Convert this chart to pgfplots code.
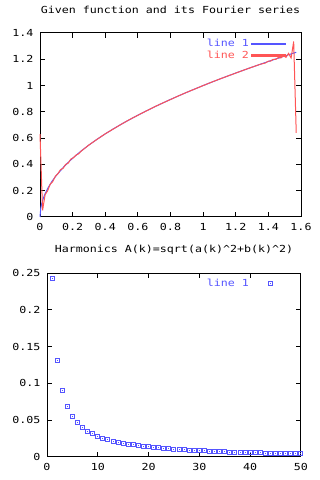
\documentclass[border=0pt]{standalone}
\usepackage{fontspec}
\setmonofont[FakeStretch=1.2]{DejaVu Sans Mono}
\usepackage{pgfplots}
\pgfplotsset{compat=1.18}
\definecolor{gpblue}{RGB}{85,85,255}
\definecolor{gpred}{RGB}{255,85,85}
\newcommand\gp{\ttfamily\fontsize{9.7}{11}\selectfont}
\pgfdeclareplotmark{gpbox}{%
  \pgfpathrectangle{\pgfpoint{-\pgfplotmarksize}{-\pgfplotmarksize}}{\pgfpoint{2\pgfplotmarksize}{2\pgfplotmarksize}}%
  \pgfusepathqstroke
  \pgfpathrectangle{\pgfpoint{-0.5pt}{-0.5pt}}{\pgfpoint{1pt}{1pt}}%
  \pgfusepathqfill}
\pgfplotsset{
  gpaxis/.style={
    scale only axis,
    anchor=south west,
    axis line style={line width=1pt},
    tick align=inside,
    tick pos=both,
    major tick length=5pt,
    tick style={black, line width=1pt},
    font=\gp,
    ticklabel style={font=\gp},
    /pgf/number format/assume math mode=true,
    /pgf/number format/fixed,
    xticklabel style={yshift=-3pt},
    yticklabel style={xshift=-3pt},
    title style={font=\gp, at={(0.5,1)}, anchor=center, yshift=17pt},
    clip=false,
    legend style={draw=none, fill=none, font=\gp, at={(1,1)}, anchor=north east,
      xshift=-12pt, yshift=-2pt, row sep=-1pt},
    legend cell align=right,
    legend plot pos=right,
  }
}
\begin{document}
\begin{tikzpicture}
\path[use as bounding box] (0,0) rectangle (320pt,480pt);
\begin{axis}[gpaxis,
  at={(40pt,263pt)}, width=261pt, height=184pt,
  xmin=0, xmax=1.6, ymin=0, ymax=1.4,
  xtick={0,0.2,0.4,0.6,0.8,1,1.2,1.4,1.6},
  ytick={0,0.2,0.4,0.6,0.8,1,1.2,1.4},
  title={Given function and its Fourier series},
]
\addplot[gpblue, line width=1pt,
  legend image code/.code={\fill[gpblue] (5pt,-0.6pt) rectangle (39pt,0.6pt);}] coordinates {
(0,0) (0.005,0.0707) (0.01,0.1) (0.02,0.1414) (0.03,0.1732) (0.05,0.2236)
(0.075,0.2739) (0.1,0.3162) (0.15,0.3873) (0.2,0.4472) (0.25,0.5) (0.3,0.5477)
(0.35,0.5916) (0.4,0.6325) (0.45,0.6708) (0.5,0.7071) (0.55,0.7416) (0.6,0.7746)
(0.65,0.8062) (0.7,0.8367) (0.75,0.8660) (0.8,0.8944) (0.85,0.9220) (0.9,0.9487)
(0.95,0.9747) (1.0,1.0) (1.05,1.0247) (1.1,1.0488) (1.15,1.0724) (1.2,1.0954)
(1.25,1.1180) (1.3,1.1402) (1.35,1.1619) (1.4,1.1832) (1.45,1.2042) (1.5,1.2247)
(1.55,1.2450) (1.5708,1.2533)
};
\addlegendentry{\textcolor{gpblue}{line 1}}
\addplot[gpred, line width=1pt,
  legend image code/.code={\fill[gpred] (5pt,-0.6pt) rectangle (39pt,0.6pt);}] coordinates {
(0,0.63) (0.0157,0.05) (0.0314,0.17) (0.0471,0.20) (0.0628,0.25) (0.0785,0.27)
(0.0942,0.31) (0.1100,0.33) (0.1257,0.36) (0.1414,0.37) (0.1571,0.40) (0.1728,0.41)
(0.1885,0.44) (0.2042,0.45) (0.2199,0.47) (0.2356,0.48) (0.2513,0.50) (0.3,0.548)
(0.35,0.591) (0.4,0.633) (0.45,0.670) (0.5,0.707) (0.55,0.742) (0.6,0.774)
(0.65,0.806) (0.7,0.837) (0.75,0.866) (0.8,0.894) (0.85,0.922) (0.9,0.949)
(0.95,0.974) (1.0,1.000) (1.05,1.025) (1.1,1.049) (1.15,1.072) (1.2,1.095)
(1.25,1.118) (1.3,1.140) (1.35,1.162) (1.3823,1.172) (1.3980,1.185) (1.4137,1.186)
(1.4294,1.200) (1.4451,1.199) (1.4608,1.213) (1.4765,1.210) (1.4923,1.228)
(1.5080,1.215) (1.5237,1.245) (1.5394,1.210) (1.5551,1.335) (1.5708,0.64)
};
\addlegendentry{\textcolor{gpred}{line 2}}
\end{axis}
\begin{axis}[gpaxis,
  at={(47pt,23pt)}, width=254pt, height=184pt,
  xmin=0, xmax=50, ymin=0, ymax=0.25,
  xtick={0,10,20,30,40,50},
  ytick={0,0.05,0.1,0.15,0.2,0.25},
  scaled y ticks=false,
  yticklabel style={/pgf/number format/precision=2},
  title={Harmonics A(k)=sqrt(a(k)\string^2+b(k)\string^2)},
  legend image code/.code={\draw[#1, gpblue] plot coordinates {(24pt,0pt)};\path (5pt,0pt) (39pt,0pt);},
]
\addplot[gpblue, only marks, mark=gpbox, mark size=2pt, line width=1pt] coordinates {
(1,0.2432) (2,0.1311) (3,0.0901) (4,0.0689) (5,0.0554) (6,0.0473) (7,0.0405)
(8,0.0347) (9,0.0320) (10,0.0279) (11,0.0252) (12,0.0239) (13,0.0212) (14,0.0198)
(15,0.0185) (16,0.0174) (17,0.0168) (18,0.0158) (19,0.0147) (20,0.0142)
(21,0.0133) (22,0.0129) (23,0.0120) (24,0.0116) (25,0.0106) (26,0.0103)
(27,0.0101) (28,0.0093) (29,0.0090) (30,0.0089) (31,0.0087) (32,0.0079)
(33,0.0076) (34,0.0075) (35,0.0073) (36,0.0065) (37,0.0063) (38,0.0062)
(39,0.0061) (40,0.0061) (41,0.0060) (42,0.0059) (43,0.0052) (44,0.0051)
(45,0.0050) (46,0.0050) (47,0.0049) (48,0.0049) (49,0.0048) (50,0.0048)
};
\addlegendentry{\textcolor{gpblue}{line 1}}
\end{axis}
\end{tikzpicture}
\end{document}
